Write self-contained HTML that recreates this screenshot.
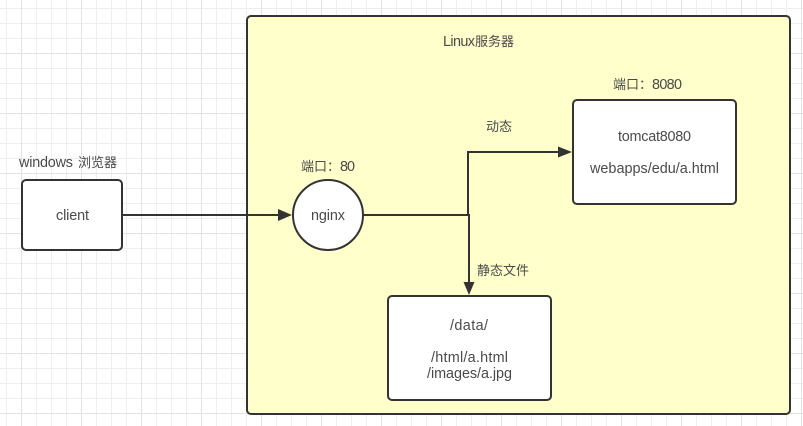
<!DOCTYPE html>
<html><head><meta charset="utf-8"><style>
html,body{margin:0;padding:0;background:#fff}
svg{display:block}
text{font-family:"Liberation Sans","Noto Sans CJK SC",sans-serif;font-size:14.4px;fill:#4a4a4a}
text.c{font-size:13px}
</style></head><body>
<svg width="803" height="426" viewBox="0 0 803 426" xmlns="http://www.w3.org/2000/svg">
<defs>
<pattern id="g" width="60" height="60" patternUnits="userSpaceOnUse" patternTransform="translate(21 -7)">
<path d="M15.5 0V60M30.5 0V60M45.5 0V60M0 15.5H60M0 30.5H60M0 45.5H60" stroke="#eeeeee" stroke-width="1" fill="none"/>
<path d="M0.5 0V60M0 0.5H60" stroke="#e2e2e2" stroke-width="1" fill="none"/>
</pattern>
</defs>
<rect width="803" height="426" fill="url(#g)"/>
<rect x="247" y="16" width="543" height="398" rx="4" fill="#ffffcc" stroke="#333" stroke-width="2"/>
<rect x="22" y="180" width="100" height="70" rx="4" fill="#fff" stroke="#333" stroke-width="2"/>
<circle cx="328" cy="215" r="35" fill="#fff" stroke="#333" stroke-width="2"/>
<rect x="573" y="100" width="163" height="104" rx="4" fill="#fff" stroke="#333" stroke-width="2"/>
<rect x="388" y="296" width="163" height="104" rx="4" fill="#fff" stroke="#333" stroke-width="2"/>
<path d="M122 215H279M363 215H469V283M468 215V152H559" fill="none" stroke="#333" stroke-width="2"/>
<path d="M278 209L292 215L278 221Z M558 146.500L572 152L558 157.500Z M463.500 282L469 295L474.500 282Z" fill="#333"/>
<text x="19" y="167" textLength="54" lengthAdjust="spacing">windows</text>
<text class="c" x="78" y="167">浏览器</text>
<text x="56" y="220" textLength="33" lengthAdjust="spacing">client</text>
<text class="c" x="301" y="171">端口：</text>
<text x="340" y="171" textLength="15" lengthAdjust="spacing">80</text>
<text x="311" y="220" textLength="34" lengthAdjust="spacing">nginx</text>
<text x="443" y="46" textLength="32" lengthAdjust="spacing">Linux</text>
<text class="c" x="475" y="46">服务器</text>
<text class="c" x="613" y="89">端口：</text>
<text x="652" y="89" textLength="30" lengthAdjust="spacing">8080</text>
<text class="c" x="486" y="131">动态</text>
<text x="618" y="141" textLength="73" lengthAdjust="spacing">tomcat8080</text>
<text x="590" y="173" textLength="129" lengthAdjust="spacing">webapps/edu/a.html</text>
<text class="c" x="477" y="275">静态文件</text>
<text x="450" y="330" textLength="38" lengthAdjust="spacing">/data/</text>
<text x="431" y="362" textLength="77" lengthAdjust="spacing">/html/a.html</text>
<text x="427" y="378" textLength="85" lengthAdjust="spacing">/images/a.jpg</text>
</svg>
</body></html>
